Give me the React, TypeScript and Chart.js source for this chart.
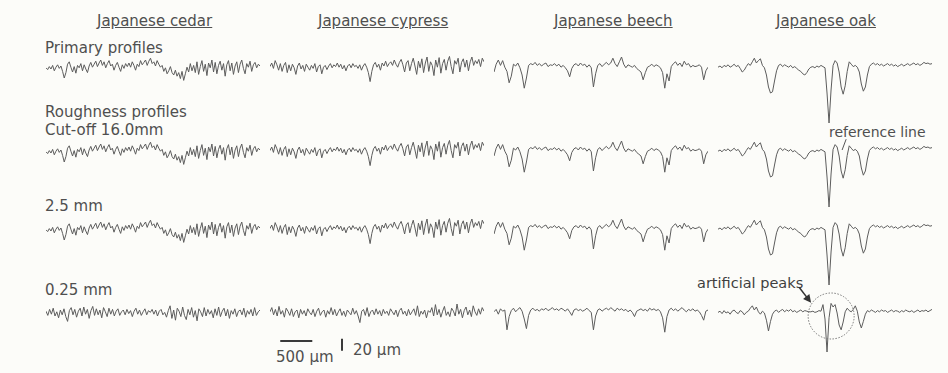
import React, { useEffect, useRef } from "react";
import { Chart, registerables } from "chart.js";

Chart.register(...registerables);

// ---------------- data (µm) ----------------
const species = ["Japanese cedar", "Japanese cypress", "Japanese beech", "Japanese oak"];
const rowLabels = ["Primary profiles", "Roughness profiles", "Cut-off 16.0mm", "2.5 mm", "0.25 mm"];

const PROFILE_LENGTH = 3340; // µm along each profile
const SCALE_X_UM = 500;
const SCALE_Y_UM = 20;

const cedarPrimary = [
  2, -1, 4, 0, 6, -3, 3, 7, 1, 5,
  -4, -15, -6, 8, 12, 3, -5, 4, -7, 6,
  2, 9, -3, 7, 0, -6, 5, 11, 3, 8,
  13, 4, 10, 15, 6, 12, 2, 9, 14, 5,
  8, -2, 6, 11, 3, -4, 7, 1, 9, 4,
  10, 3, 12, 6, -2, 8, 4, 14, 7, 11,
  15, 6, 13, 18, 9, 12, 5, 14, 8, 3,
  6, -4, 2, -8, -3, 4, -6, -10, -2, -12,
  -6, -16, -4, -19, -8, 3, -5, 9, -3, 6,
  -6, 12, -9, 4, 14, -4, 8, -11, 10, 2,
  15, -5, 11, -8, 6, 13, -2, 9, -12, 7,
  14, -3, 10, -9, 5, 12, -6, 8, 15, 1,
  -8, 9, 3, 13, -4, 7, 11, 2, 8, 5,
];
const cedarCut16 = cedarPrimary;
const cedarCut25 = cedarPrimary;
const cedarCut025 = [
  3, -4, 6, -2, 8, -5, 2, -8, 5, -3, 7, -6, -14, 4, 9, -3, 6, -7, 3, 8,
  -5, 10, -2, 6, -9, 4, 11, -4, 7, -3, 5, -8, 9, 2, -6, 8, -2, 6, -5, 3,
  7, -4, 2, 5, -3, 6, -1, 4, -6, 3, 8, -2, 5, -4, 2, 7, -3, 4, 1, 6,
  -2, 5, -5, 3, 6, -3, 1, -7, 4, 12, -9, 5, -12, 8, 3, -6, 10, -4, -11, 6,
  -3, 9, -7, 4, -13, 7, 2, -6, 9, -5, 6, -2, 4, -8, 7, -4, 10, -6, 3, 8,
  -5, 6, -9, 4, -2, 7, -6, 3, 5, -3, 8, -7, 4, -2, 6, -5, 9, -4, 2, 5,
];

const cypressPrimary = [
  4, 10, 1, 14, 7, -2, 9, -4, 6, 11,
  -6, 7, -3, 8, 2, -9, 5, 10, 0, 6,
  -4, 8, 3, -2, 6, 1, 9, -5, 4, 7,
  -8, 3, 6, -1, 5, 9, 2, 7, 4, 10,
  3, 8, 0, 6, -3, 5, 8, 2, 9, 4,
  6, 1, 7, -2, 5, 9, 3, -6, -21, -4,
  7, 11, 3, 8, -2, 10, 5, 13, 4, 9,
  12, 6, 15, 8, 3, 11, 16, 7, -5, 10,
  14, -3, 9, 18, 5, -9, 13, 2, 17, -6,
  10, 20, -4, 12, 6, -11, 15, 3, 19, -7,
  9, 16, -2, 13, 21, 4, -8, 14, 8, 18,
  -5, 11, 17, 3, 15, -3, 12, 20, 6, 14,
  9, 16, 4, 18, 12,
];
const cypressCut16 = cypressPrimary;
const cypressCut25 = cypressPrimary;
const cypressCut025 = [
  2, 9, -3, 6, -5, 11, -2, 4, -7, 8, 3, -4, 7, -6, 2, 5, -8, 6, -2, 4,
  -5, 7, 1, -3, 6, -6, 3, 8, -4, 2, 5, -7, 4, -2, 9, -3, 6, -5, 2, 7,
  -4, 3, -6, 5, 1, -3, 8, -2, 4, -5, -16, 3, 6, -4, 9, -6, 2, 5, -3, 7,
  -2, 4, -5, 6, -1, 3, -4, 7, 2, -3, 5, -6, 4, 8, -2, 3, -5, 6, -3, 2,
  7, -4, 12, -6, 3, -2, 5, -8, 4, 1, 9, -5, 14, -3, 6, -7, 3, 11, -4, 2,
  -6, 8, 3, -5, 15, -2, 6, -8, 4, 10, -3, 5, -6, 12, 2, -4, 7, -2, 9, 3,
];

const beechPrimary = [
  -5, 8, 15, 6, 14, 3, -4, -23, -12, 8,
  5, 10, 2, -10, -32, -15, 6, 9, 7, 11,
  6, 9, 5, 8, 10, 4, 7, 6, 9, 5,
  8, 3, 6, 2, -3, -13, 1, 7, 9, 5,
  10, 6, 8, 3, 7, 2, -30, -8, 6, 9,
  4, 8, 11, 7, 10, 18, 9, 4, 12, 20,
  8, 2, 7, 5, 3, 6, 1, -2, -5, -18,
  -6, 3, 5, 8, 4, 7, 5, 2, -6, -32,
  -8, -20, 4, 9, 12, 6, 10, 4, 13, 7,
  9, 3, 6, 4, 5, 7, 3, -18, -3, 3,
];
const beechCut16 = beechPrimary;
const beechCut25 = beechPrimary;
const beechCut025 = [
  2, 6, -2, 7, 3, 5, -28, -6, 4, 8,
  2, 6, 9, 3, -10, -26, -4, 5, 8, 4,
  6, 3, 7, 5, 8, 4, 6, 9, 5, 7,
  4, 8, 6, 3, 7, 2, -4, 5, 7, 4,
  6, 3, 5, 8, 4, 1, -28, -5, 5, 7,
  3, 6, 8, 5, 9, 6, 3, 8, 5, 7,
  4, 6, 2, 5, 1, -6, 3, 5, 7, 4,
  6, 3, 8, 5, 7, 4, 6, 2, -8, -32,
  -6, 5, 8, 4, 7, 3, 6, 9, 5, 2,
  6, 4, 7, 3, 5, 2, -4, -12, 3, 5,
];

const oakPrimary = [
  3, 5, 2, 6, 4, 7, 3, 5, 8, 4, 6,
  1, -5, -2,
  4, 9, 6, 12,
  18, 10, 14, 17,
  6, 2,
  -10, -30, -40, -38, -20, -3,
  6, 8, 4, 7, 5, 3, 6, 2, 4, 1, -2,
  -4, -8, -10, -6, 0, 3,
  4, 2, 5, 3, 6, 4, 2,
  -40, -90, -35, 6,
  14, 10,
  -5, -30, -42, -28, -4,
  12, 8, 4,
  6, 3, -5,
  -25, -37, -30, -10, 4,
  8, 10, 7, 9, 6, 8, 5, 7, 9, 6, 8, 5, 7, 4, 6, 8, 5, 7, 9, 6, 8, 10, 7, 9, 6, 8, 11, 9, 10, 8, 9,
];
const oakCut16 = oakPrimary;
const oakCut25 = oakPrimary;
const oakCut025 = [
  1, 3, -1, 4, 0, 2, -2, 3, 5, 1, -1, 4, 2, -3, 1, 3,
  8, 12, 5, 10,
  2, -2, 3, 0,
  -12, -30, -14, -2,
  3, 5, 1, 4, 6, 2, 5, 3, 6, 2, 4, 1, 3, 5, 2, 4, 3,
  2, 2, 3, 1, 2, 4, 3,
  14, -10, -65, -8,
  16, 10, 14,
  0, -20, -28,
  -15, 2, 8, 4, 2, 6, 12, 3, -15, -25, -14, -2,
  4, 2, 5, 3, 1, 4, 2, 5, 3, 4, 1, 3, 5, 2, 4, 3, 1, 4, 2, 5, 3, 2, 4, 1, 3, 5, 2, 4, 3, 5, 2, 4, 6,
];

const profileRows = [
  [cedarPrimary, cypressPrimary, beechPrimary, oakPrimary],
  [cedarCut16, cypressCut16, beechCut16, oakCut16],
  [cedarCut25, cypressCut25, beechCut25, oakCut25],
  [cedarCut025, cypressCut025, beechCut025, oakCut025],
];

// ---------------- layout / style ----------------
const PX_X = 32 / 500; // px per µm along profile
const PX_Y = 0.6; // px per µm height
const COL_LEFT = [46, 270, 494, 718];
const ROW_BASE = [69, 153, 231, 313];
const ROW_YMAX = [45, 45, 45, 45];
const ROW_YMIN = [-100, -100, -100, -75];
const LINE_COLOR = "#5c5c5c";
const TEXT_COLOR = "#4f4f4f";
const FONT = "'DejaVu Sans', Verdana, sans-serif";

const scaleBarPlugin = {
  id: "scaleBar",
  afterDatasetsDraw(chart: any) {
    const { ctx } = chart;
    const x = chart.scales.x;
    const y = chart.scales.y;
    ctx.save();
    ctx.strokeStyle = "#3a3a3a";
    ctx.lineWidth = 2;
    ctx.beginPath();
    const hy = Math.round(y.getPixelForValue(-47));
    ctx.moveTo(x.getPixelForValue(160), hy);
    ctx.lineTo(x.getPixelForValue(160 + SCALE_X_UM), hy);
    const vx = Math.round(x.getPixelForValue(1125));
    ctx.moveTo(vx, y.getPixelForValue(-43));
    ctx.lineTo(vx, y.getPixelForValue(-43 - SCALE_Y_UM));
    ctx.stroke();
    ctx.restore();
  },
};

const referencePlugin = {
  id: "refLeader",
  afterDatasetsDraw(chart: any) {
    const { ctx } = chart;
    const x = chart.scales.x;
    const y = chart.scales.y;
    ctx.save();
    ctx.strokeStyle = "#555";
    ctx.lineWidth = 1;
    ctx.beginPath();
    ctx.moveTo(x.getPixelForValue(2000), y.getPixelForValue(23));
    ctx.lineTo(x.getPixelForValue(1937), y.getPixelForValue(5));
    ctx.stroke();
    ctx.restore();
  },
};

const artificialPlugin = {
  id: "artificial",
  afterDatasetsDraw(chart: any) {
    const { ctx } = chart;
    const x = chart.scales.x;
    const y = chart.scales.y;
    ctx.save();
    ctx.strokeStyle = "#777";
    ctx.lineWidth = 1;
    ctx.setLineDash([1.5, 1.5]);
    ctx.beginPath();
    ctx.arc(x.getPixelForValue(1766), y.getPixelForValue(-5), 23, 0, Math.PI * 2);
    ctx.stroke();
    ctx.setLineDash([]);
    const x0 = x.getPixelForValue(1266), y0 = y.getPixelForValue(43);
    const x1 = x.getPixelForValue(1453), y1 = y.getPixelForValue(17);
    const ang = Math.atan2(y1 - y0, x1 - x0);
    ctx.strokeStyle = "#333";
    ctx.fillStyle = "#333";
    ctx.lineWidth = 1.5;
    ctx.beginPath();
    ctx.moveTo(x0, y0);
    ctx.lineTo(x1 - 5 * Math.cos(ang), y1 - 5 * Math.sin(ang));
    ctx.stroke();
    ctx.beginPath();
    ctx.moveTo(x1, y1);
    ctx.lineTo(x1 - 8 * Math.cos(ang) + 4 * Math.sin(ang), y1 - 8 * Math.sin(ang) - 4 * Math.cos(ang));
    ctx.lineTo(x1 - 8 * Math.cos(ang) - 4 * Math.sin(ang), y1 - 8 * Math.sin(ang) + 4 * Math.cos(ang));
    ctx.closePath();
    ctx.fill();
    ctx.restore();
  },
};

function Trace(props: { values: number[]; left: number; baseline: number; yMin: number; yMax: number; extra?: any }) {
  const { values, left, baseline, yMin, yMax, extra } = props;
  const ref = useRef<HTMLCanvasElement | null>(null);
  const w = Math.round(PROFILE_LENGTH * PX_X);
  const h = Math.round((yMax - yMin) * PX_Y);
  const top = Math.round(baseline - yMax * PX_Y);
  useEffect(() => {
    const n = values.length;
    const pts = values.map((v, i) => ({ x: (i * PROFILE_LENGTH) / (n - 1), y: v }));
    const chart = new Chart(ref.current as HTMLCanvasElement, {
      type: "line",
      data: {
        datasets: [
          {
            data: pts,
            borderColor: LINE_COLOR,
            borderWidth: 1,
            pointRadius: 0,
            tension: 0,
            fill: false,
            clip: false,
          } as any,
        ],
      },
      options: {
        animation: false,
        responsive: false,
        maintainAspectRatio: false,
        devicePixelRatio: 1,
        events: [],
        layout: { padding: 0 },
        scales: {
          x: { type: "linear", display: false, min: 0, max: PROFILE_LENGTH },
          y: { type: "linear", display: false, min: yMin, max: yMax },
        },
        plugins: { legend: { display: false }, tooltip: { enabled: false } },
      } as any,
      plugins: extra ? [extra] : [],
    });
    return () => chart.destroy();
  }, []);
  return (
    <canvas
      ref={ref}
      width={w}
      height={h}
      style={{ position: "absolute", left, top, width: w, height: h }}
    />
  );
}

const txt = (s: any): React.CSSProperties => ({
  position: "absolute",
  whiteSpace: "nowrap",
  fontFamily: FONT,
  fontSize: 15,
  lineHeight: "18px",
  color: TEXT_COLOR,
  ...s,
});

export default function App() {
  const headerLeft = [97, 318, 554, 776];
  const labelTops = [39, 103, 121, 197, 281];
  return (
    <div
      style={{
        position: "absolute",
        left: 0,
        top: 0,
        width: 948,
        height: 373,
        background: "#fcfcf9",
        overflow: "hidden",
      }}
    >
      {species.map((s, i) => (
        <div key={s} style={txt({ left: headerLeft[i], top: 12, textDecoration: "underline" })}>
          {s}
        </div>
      ))}
      {rowLabels.map((s, i) => (
        <div key={s} style={txt({ left: 45, top: labelTops[i] })}>
          {s}
        </div>
      ))}
      <div style={txt({ left: 829, top: 123, fontSize: 14 })}>reference line</div>
      <div style={txt({ left: 697, top: 274, fontSize: 14.5, color: "#3f3f3f" })}>artificial peaks</div>
      <div style={txt({ left: 276, top: 348 })}>500 µm</div>
      <div style={txt({ left: 353, top: 341 })}>20 µm</div>
      {profileRows.map((row, r) =>
        row.map((vals, c) => {
          let extra: any = undefined;
          if (r === 3 && c === 1) extra = scaleBarPlugin;
          if (r === 1 && c === 3) extra = referencePlugin;
          if (r === 3 && c === 3) extra = artificialPlugin;
          return (
            <Trace
              key={r + "-" + c}
              values={vals}
              left={COL_LEFT[c]}
              baseline={ROW_BASE[r]}
              yMin={ROW_YMIN[r]}
              yMax={ROW_YMAX[r]}
              extra={extra}
            />
          );
        })
      )}
    </div>
  );
}
